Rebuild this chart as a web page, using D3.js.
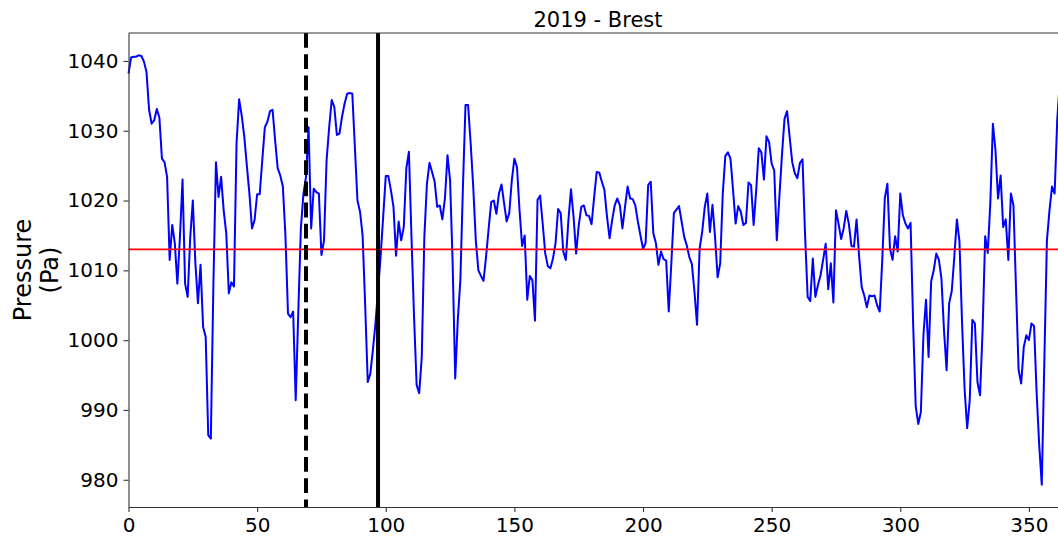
<!DOCTYPE html>
<html>
<head>
<meta charset="UTF-8">
<title>2019 - Brest</title>
<style>
  body { margin: 0; background: white; }
  svg { display: block; font-family: "DejaVu Sans", sans-serif; }
  .axis text { font-size: 20px; fill: #000; }
  .axis line, .axis path { stroke: #333; stroke-width: 1.1px; }
</style>
</head>
<body>
<script src="https://d3js.org/d3.v7.min.js"></script>
<script>
// daily sea level pressure, day 0 .. 362
var pressure = [
  1038.2, 1040.5, 1040.6, 1040.6, 1040.8, 1040.7, 1039.9, 1038.4, 1033.0, 1031.0,
  1031.5, 1033.1, 1031.9, 1026.0, 1025.5, 1023.4, 1011.5, 1016.5, 1013.9, 1008.1,
  1014.8, 1023.0, 1008.1, 1006.2, 1014.8, 1020.0, 1011.0, 1005.3, 1010.8, 1001.9,
  1000.5, 986.4, 985.9, 1008.0, 1025.5, 1020.5, 1023.4, 1018.6, 1015.3, 1006.7,
  1008.3, 1007.7, 1028.2, 1034.5, 1032.2, 1029.2, 1025.0, 1021.0, 1016.0, 1017.2,
  1020.9, 1020.9, 1025.8, 1030.5, 1031.3, 1032.8, 1033.0, 1028.6, 1024.6, 1023.6,
  1022.0, 1015.0, 1003.8, 1003.3, 1004.1, 991.4, 1004.0, 1016.0, 1021.0, 1023.4,
  1030.5, 1016.0, 1021.7, 1021.2, 1021.0, 1012.2, 1014.3, 1025.8, 1030.5, 1034.4,
  1033.4, 1029.4, 1029.6, 1032.0, 1033.9, 1035.3, 1035.4, 1035.3, 1027.6, 1020.0,
  1018.4, 1015.0, 1005.0, 994.0, 995.2, 998.6, 1002.4, 1007.2, 1012.0, 1017.7,
  1023.5, 1023.5, 1021.5, 1019.1, 1012.1, 1017.0, 1014.3, 1016.2, 1024.6, 1027.0,
  1014.8, 1003.3, 993.6, 992.4, 997.6, 1014.8, 1022.4, 1025.4, 1024.1, 1022.7,
  1019.1, 1019.3, 1017.3, 1020.3, 1026.5, 1022.9, 1011.0, 994.5, 1002.9, 1008.6,
  1022.0, 1033.7, 1033.7, 1028.2, 1022.0, 1014.3, 1010.0, 1009.2, 1008.5, 1012.0,
  1016.0, 1019.8, 1020.0, 1018.1, 1021.0, 1022.3, 1019.6, 1017.0, 1018.2, 1022.9,
  1026.0, 1024.8, 1018.6, 1013.5, 1015.0, 1005.8, 1009.2, 1008.6, 1002.8, 1020.1,
  1020.7, 1016.7, 1012.4, 1010.6, 1010.3, 1011.7, 1013.9, 1018.8, 1018.2, 1012.7,
  1011.5, 1017.2, 1021.6, 1017.7, 1012.4, 1016.4, 1019.1, 1019.3, 1017.9, 1017.8,
  1016.6, 1020.5, 1024.1, 1024.0, 1022.7, 1021.5, 1017.7, 1014.6, 1017.2, 1019.3,
  1020.3, 1019.3, 1016.0, 1019.1, 1022.0, 1020.3, 1020.2, 1019.3, 1017.0, 1015.0,
  1013.1, 1013.9, 1022.2, 1022.7, 1015.3, 1013.9, 1010.8, 1012.7, 1011.6, 1011.4,
  1004.1, 1011.0, 1018.2, 1018.7, 1019.2, 1017.0, 1014.8, 1013.6, 1011.9, 1010.9,
  1006.9, 1002.2, 1013.1, 1015.5, 1019.1, 1021.0, 1015.5, 1019.4, 1014.8, 1009.0,
  1011.0, 1021.0, 1026.4, 1026.9, 1026.0, 1021.5, 1016.7, 1019.2, 1018.4, 1016.5,
  1016.8, 1022.6, 1022.2, 1016.5, 1021.5, 1027.5, 1026.9, 1023.0, 1029.2, 1028.4,
  1025.3, 1024.3, 1014.3, 1020.5, 1026.5, 1031.7, 1032.8, 1029.1, 1025.5, 1023.9,
  1023.2, 1025.4, 1025.9, 1015.0, 1006.2, 1005.6, 1011.7, 1006.2, 1007.9, 1009.3,
  1011.5, 1013.8, 1007.3, 1011.0, 1005.4, 1018.6, 1016.7, 1014.5, 1016.0, 1018.5,
  1016.7, 1013.5, 1013.4, 1017.3, 1012.0, 1007.6, 1006.4, 1004.7, 1006.4, 1006.3,
  1006.4, 1005.0, 1004.1, 1011.5, 1020.4, 1022.4, 1013.1, 1011.5, 1014.9, 1012.7,
  1021.0, 1017.9, 1016.7, 1016.0, 1016.8, 1002.4, 990.5, 988.0, 989.7, 1000.7,
  1005.8, 997.6, 1008.4, 1010.0, 1012.4, 1011.5, 1008.8, 1001.4, 995.7, 1005.3,
  1007.0, 1011.9, 1017.3, 1014.2, 1002.6, 993.0, 987.4, 991.4, 1002.9, 1002.4,
  994.0, 992.1, 1001.4, 1014.9, 1012.5, 1019.6, 1031.0, 1027.2, 1020.3, 1023.6,
  1016.2, 1017.3, 1011.5, 1021.0, 1019.3, 1007.2, 995.7, 993.8, 999.0, 1000.7,
  1000.0, 1002.4, 1002.0, 992.5, 985.0, 979.3, 997.0, 1014.3, 1018.6, 1022.0,
  1021.0, 1031.5, 1037.0
];
var meanPressure = 1013.0;
var dashedDay = 69;   // dashed marker
var solidDay = 97;    // solid marker
var xTicks = [0, 50, 100, 150, 200, 250, 300, 350];
var yTicks = [980, 990, 1000, 1010, 1020, 1030, 1040];

var width = 1058, height = 536;
var plotLeft = 128.5, plotTop = 33, plotBottom = 507, plotRight = 1067.5;

var svg = d3.select("body").append("svg")
    .attr("width", width)
    .attr("height", height);

var x = d3.scaleLinear().domain([0, 365]).range([plotLeft, plotRight]);
var y = d3.scaleLinear().domain([976.1, 1044.0]).range([plotBottom, plotTop]);

var line = d3.line()
    .x(function(d, i) { return x(i); })
    .y(function(d) { return y(d); });

svg.append("path")
    .datum(pressure)
    .attr("d", line)
    .attr("fill", "none")
    .attr("stroke", "#0000ff")
    .attr("stroke-width", 2)
    .attr("stroke-linejoin", "round");

svg.append("line")
    .attr("x1", plotLeft).attr("x2", plotRight)
    .attr("y1", y(meanPressure)).attr("y2", y(meanPressure))
    .attr("stroke", "#ff0000")
    .attr("stroke-width", 1.6);

svg.append("line")
    .attr("x1", x(dashedDay)).attr("x2", x(dashedDay))
    .attr("y1", plotTop).attr("y2", plotBottom)
    .attr("stroke", "#000")
    .attr("stroke-width", 4)
    .attr("stroke-dasharray", "14.8,6.4");

svg.append("line")
    .attr("x1", x(solidDay)).attr("x2", x(solidDay))
    .attr("y1", plotTop).attr("y2", plotBottom)
    .attr("stroke", "#000")
    .attr("stroke-width", 4);

// top spine (right one falls outside the window)
svg.append("line")
    .attr("x1", plotLeft).attr("x2", plotRight)
    .attr("y1", plotTop).attr("y2", plotTop)
    .attr("stroke", "#333").attr("stroke-width", 1.1);

svg.append("g")
    .attr("class", "axis")
    .attr("transform", "translate(0," + plotBottom + ")")
    .call(d3.axisBottom(x).tickValues(xTicks).tickFormat(d3.format("d"))
        .tickSize(5).tickSizeOuter(0).tickPadding(6))
    .call(function(g) { g.selectAll("text").attr("font-family", "DejaVu Sans").attr("font-size", 20); });

svg.append("g")
    .attr("class", "axis")
    .attr("transform", "translate(" + plotLeft + ",0)")
    .call(d3.axisLeft(y).tickValues(yTicks).tickFormat(d3.format("d"))
        .tickSize(5).tickSizeOuter(0).tickPadding(5))
    .call(function(g) { g.selectAll("text").attr("font-family", "DejaVu Sans").attr("font-size", 20); });

svg.append("text")
    .attr("x", (plotLeft + plotRight) / 2)
    .attr("y", 27)
    .attr("text-anchor", "middle")
    .attr("font-size", 21)
    .text("2019 - Brest");

var ylab = svg.append("text")
    .attr("transform", "translate(31," + ((plotTop + plotBottom) / 2) + ") rotate(-90)")
    .attr("text-anchor", "middle")
    .attr("font-size", 24);
ylab.append("tspan").attr("x", 0).attr("y", 0).text("Pressure");
ylab.append("tspan").attr("x", 0).attr("y", 27).text("(Pa)");
</script>
</body>
</html>
